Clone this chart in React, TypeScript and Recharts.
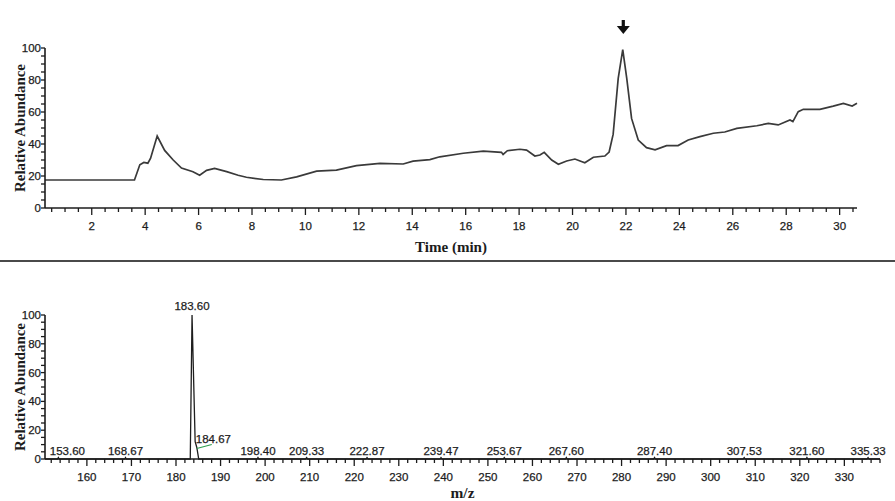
import React from "react";
import { LineChart, ComposedChart, Line, Scatter, XAxis, YAxis, ReferenceDot, Label } from "recharts";

// chromatogram (top panel)
const retentionTime = [
  0.25, 3.6, 3.8, 3.95, 4.1, 4.2, 4.45, 4.73, 5.05, 5.36, 5.79, 6.04, 6.3, 6.6, 7.05, 7.48, 7.79, 8.42, 9.1,
  9.67, 10.42, 11.16, 11.91, 12.79, 13.66, 14.03, 14.66, 15.03, 15.91, 16.66, 17.34, 17.4, 17.56, 18.03, 18.28,
  18.59, 18.78, 18.94, 19.22, 19.47, 19.78, 20.09, 20.46, 20.78, 21.21, 21.37, 21.52, 21.71, 21.88, 22.03, 22.21,
  22.46, 22.77, 23.09, 23.52, 23.95, 24.33, 24.77, 25.27, 25.7, 26.15, 26.9, 27.33, 27.7, 28.14, 28.25, 28.45,
  28.64, 29.26, 29.76, 30.14, 30.47, 30.65,
];
const abundance = [
  17.5, 17.5, 27, 28.5, 28, 31, 45, 36, 30, 25, 22.7, 20.5, 23.5, 24.8, 22.7, 20.5, 19.2, 17.8, 17.5,
  19.5, 23, 23.7, 26.5, 27.9, 27.5, 29.3, 30.2, 32, 34.2, 35.6, 34.8, 33.5, 35.8, 36.7, 36.2,
  32.5, 33.1, 34.8, 30, 27.3, 29.4, 30.6, 28.3, 31.7, 32.5, 35, 46, 81, 99, 81, 56,
  42.5, 37.7, 36.3, 39, 39, 42.5, 44.6, 46.7, 47.5, 49.8, 51.4, 52.9, 51.9, 55, 54, 60.2,
  61.7, 61.7, 63.7, 65.4, 63.7, 65.4,
];
const timeLabels = [2, 4, 6, 8, 10, 12, 14, 16, 18, 20, 22, 24, 26, 28, 30];
const arrowTime = 21.9;

// mass spectrum (bottom panel)
const spectrumMz = [
  150.6, 153.4, 153.6, 153.8, 168.5, 168.67, 168.85, 183.2, 183.6, 184.3, 184.67, 185.1, 198.2, 198.4, 198.6,
  209.1, 209.33, 209.55, 222.65, 222.87, 223.1, 239.25, 239.47, 239.7, 253.45, 253.67, 253.9, 267.4, 267.6,
  267.8, 287.2, 287.4, 287.6, 307.3, 307.53, 307.75, 321.4, 321.6, 321.8, 335.1, 335.33, 335.55, 338,
];
const spectrumInt = [
  0, 0, 1, 0, 0, 1, 0, 0, 100, 12, 8, 0, 0, 1, 0,
  0, 1, 0, 0, 1, 0, 0, 1, 0, 0, 1, 0, 0, 1,
  0, 0, 1, 0, 0, 1, 0, 0, 1, 0, 0, 1, 0, 0,
];
const peakMz = [153.6, 168.67, 183.6, 184.67, 198.4, 209.33, 222.87, 239.47, 253.67, 267.6, 287.4, 307.53, 321.6, 335.33];
const peakInt = [1, 1, 100, 8, 1, 1, 1, 1, 1, 1, 1, 1, 1, 1];
const mzLabels = [160, 170, 180, 190, 200, 210, 220, 230, 240, 250, 260, 270, 280, 290, 300, 310, 320, 330];
const abundanceLabels = [0, 20, 40, 60, 80, 100];

const timeTicks = Array.from({ length: 61 }, (_, i) => 0.5 + i * 0.5);
const mzTicks = Array.from({ length: 94 }, (_, i) => 152 + i * 2);
const abundanceTicks = Array.from({ length: 21 }, (_, i) => i * 5);

const chromData = retentionTime.map((t, i) => ({ t, v: abundance[i] }));
const specData = spectrumMz.map((mz, i) => ({ mz, v: spectrumInt[i] }));
const peakData = peakMz.map((mz, i) => ({ mz, v: peakInt[i] }));

const ink = "#1c1c1c";
const tickFont = {
  fontFamily: "Liberation Sans, Arial, sans-serif",
  fontSize: 11.5,
  fill: ink,
  stroke: ink,
  strokeWidth: 0.25,
};
const titleFont = { fontFamily: "Liberation Serif, Times New Roman, serif", fontSize: 14, fontWeight: 700, fill: ink };

const makeXTick = (labels: number[]) => (props: any) => {
  const { x, y, payload } = props;
  const major = labels.includes(payload.value);
  return (
    <g>
      <line x1={x} x2={x} y1={y} y2={y + (major ? 7 : 4)} stroke={ink} strokeWidth={1.3} />
      {major && (
        <text x={x} y={y + 18} textAnchor="middle" dominantBaseline="central" {...tickFont}>
          {payload.value}
        </text>
      )}
    </g>
  );
};

const YTick = (props: any) => {
  const { x, y, payload } = props;
  const major = abundanceLabels.includes(payload.value);
  return (
    <g>
      <line x1={x - 4} x2={x} y1={y} y2={y} stroke={ink} strokeWidth={1.3} />
      {major && (
        <text x={x - 4} y={y} textAnchor="end" dominantBaseline="central" {...tickFont}>
          {payload.value}
        </text>
      )}
    </g>
  );
};

const YTitle = (props: any) => {
  const { x, y, height } = props.viewBox;
  const cx = x + 20;
  const cy = y + height / 2;
  return (
    <text
      x={cx}
      y={cy}
      transform={`rotate(-90 ${cx} ${cy})`}
      textAnchor="middle"
      dominantBaseline="central"
      textLength={128}
      lengthAdjust="spacingAndGlyphs"
      {...titleFont}
    >
      Relative Abundance
    </text>
  );
};

const makeXTitle = (text: string, dy: number, len: number) => (props: any) => {
  const { x, y, width } = props.viewBox;
  return (
    <text
      x={x + width / 2}
      y={y + dy}
      textAnchor="middle"
      dominantBaseline="central"
      textLength={len}
      lengthAdjust="spacingAndGlyphs"
      {...titleFont}
    >
      {text}
    </text>
  );
};

const Arrow = (props: any) => {
  const { cx, cy } = props;
  return (
    <g fill="#111">
      <rect x={cx - 1.6} y={cy - 28} width={3.2} height={10} />
      <path d={`M${cx - 6.5} ${cy - 22} L${cx + 6.5} ${cy - 22} L${cx} ${cy - 14} Z`} />
    </g>
  );
};

const PeakLabel = (props: any) => {
  const { cx, cy, payload, index } = props;
  const text = payload.mz.toFixed(2);
  if (payload.mz === 184.67) {
    return (
      <g>
        <line x1={cx} y1={cy + 1} x2={cx + 15} y2={cy - 3} stroke="#2e9e4e" strokeWidth={1.2} />
        <text x={cx - 1} y={cy - 4} textAnchor="start" {...tickFont}>{text}</text>
      </g>
    );
  }
  // first label is pushed right so it stays clear of the y axis
  const dx = index === 0 ? 9 : 0;
  return (
    <text x={cx + dx} y={cy - (payload.v > 50 ? 5 : 3)} textAnchor="middle" {...tickFont}>
      {text}
    </text>
  );
};

export default function App() {
  return (
    <div style={{ position: "absolute", left: 0, top: 0, width: 895, height: 501, background: "#fff", overflow: "hidden" }}>
      <LineChart width={895} height={262} data={chromData} margin={{ top: 48, right: 38, left: 0, bottom: 0 }}>
        <XAxis
          dataKey="t"
          type="number"
          domain={[0.25, 30.65]}
          ticks={timeTicks}
          interval={0}
          height={54}
          tickSize={0}
          tickMargin={0}
          tickLine={false}
          stroke={ink}
          strokeWidth={1.6}
          tick={makeXTick(timeLabels)}
        >
          <Label content={makeXTitle("Time (min)", 39, 72)} />
        </XAxis>
        <YAxis
          type="number"
          domain={[0, 100]}
          ticks={abundanceTicks}
          interval={0}
          width={45}
          tickSize={0}
          tickMargin={0}
          tickLine={false}
          stroke={ink}
          strokeWidth={1.6}
          tick={YTick}
        >
          <Label content={YTitle} />
        </YAxis>
        <Line dataKey="v" type="linear" stroke="#3a3a3a" strokeWidth={1.7} dot={false} isAnimationActive={false} />
        <ReferenceDot x={arrowTime} y={100} shape={Arrow} />
      </LineChart>
      <div style={{ position: "absolute", left: 0, top: 260, width: 895, height: 2, background: "#4a4a4a" }} />
      <div style={{ position: "absolute", left: 0, top: 262 }}>
        <ComposedChart width={895} height={239} margin={{ top: 53, right: 15, left: 0, bottom: 0 }}>
          <XAxis
            dataKey="mz"
            type="number"
            domain={[150.6, 338]}
            ticks={mzTicks}
            interval={0}
            height={42}
            tickSize={0}
            tickMargin={0}
            tickLine={false}
            stroke={ink}
            strokeWidth={1.6}
            tick={makeXTick(mzLabels)}
          >
            <Label content={makeXTitle("m/z", 34, 24)} />
          </XAxis>
          <YAxis
            type="number"
            domain={[0, 100]}
            ticks={abundanceTicks}
            interval={0}
            width={45}
            tickSize={0}
            tickMargin={0}
            tickLine={false}
            stroke={ink}
            strokeWidth={1.6}
            tick={YTick}
          >
            <Label content={YTitle} />
          </YAxis>
          <Line data={specData} dataKey="v" type="linear" stroke="#1e1e1e" strokeWidth={1.3} dot={false} isAnimationActive={false} />
          <Scatter data={peakData} dataKey="v" shape={PeakLabel} isAnimationActive={false} />
        </ComposedChart>
      </div>
    </div>
  );
}
